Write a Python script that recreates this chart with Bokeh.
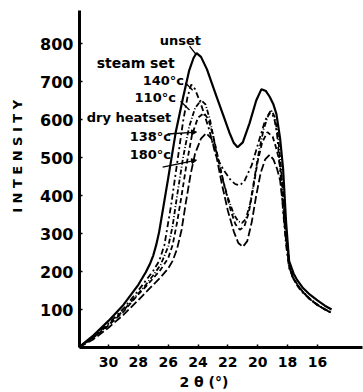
from bokeh.plotting import figure
from bokeh.models import Range1d, FixedTicker, Label, Arrow, NormalHead
from bokeh.embed import file_html
from bokeh.resources import INLINE

# ---- data ----
x_ticks = [30, 28, 26, 24, 22, 20, 18, 16]
y_ticks = [100, 200, 300, 400, 500, 600, 700, 800]

unset_theta = [32, 31, 30, 29, 28, 27.5, 27.2, 27.0, 26.8, 26.6, 26.3, 26.0, 25.5, 25.0, 24.6, 24.3, 24.1,
               23.8, 23.4, 22.8, 22.3, 21.9, 21.6, 21.35, 21.0, 20.55, 20.1, 19.75, 19.45, 19.2, 18.95,
               18.75, 18.5, 18.3, 18.1, 17.9, 17.6, 17.4, 17.0, 16.5, 16.0, 15.5, 15.05]
unset_int = [0, 32, 70, 112, 165, 198, 222, 242, 270, 305, 375, 445, 565, 658, 728, 762, 775,
             765, 732, 665, 610, 566, 538, 527, 540, 590, 650, 680, 675, 660, 640,
             615, 550, 470, 330, 228, 195, 180, 158, 139, 124, 110, 100]

steam140_theta = [32, 31, 30, 29, 28, 27.5, 27, 26.6, 26.25, 25.8, 25.4, 25.0, 24.7, 24.45, 24.2, 23.8,
                  23.3, 22.8, 22.3, 21.8, 21.5, 21.2, 20.9, 20.4, 19.9, 19.5, 19.15, 18.9, 18.7, 18.5,
                  18.3, 18.1, 17.9, 17.6, 17.3, 17.0, 16.5, 16.0, 15.5, 15.1]
steam140_int = [0, 28, 63, 102, 150, 176, 202, 228, 270, 375, 485, 595, 660, 692, 680, 640,
                580, 505, 468, 440, 430, 427, 437, 480, 546, 598, 622, 605, 560, 470,
                360, 270, 210, 180, 160, 145, 127, 112, 100, 92]

steam110_theta = [32, 31, 30, 29, 28, 27.5, 27, 26.5, 26.0, 25.7, 25.4, 25.0, 24.6, 24.2, 23.8, 23.5,
                  23.2, 22.8, 22.4, 22.0, 21.6, 21.3, 21.05, 20.8, 20.5, 20.2, 19.9, 19.6, 19.3, 19.05,
                  18.85, 18.65, 18.45, 18.25, 18.05, 17.85, 17.6, 17.3, 17.0, 16.5, 16.0, 15.5, 15.15]
steam110_int = [0, 27, 60, 97, 142, 165, 190, 218, 265, 320, 400, 500, 580, 630, 651, 640,
                600, 520, 450, 395, 350, 332, 328, 338, 380, 450, 520, 575, 610, 623,
                605, 560, 480, 370, 270, 210, 182, 163, 148, 128, 113, 101, 94]

dry138_theta = [32, 31, 30, 29, 28, 27.5, 27, 26.5, 26.0, 25.7, 25.4, 25.1, 24.8, 24.4, 24.0, 23.6,
                23.3, 23.0, 22.6, 22.2, 21.8, 21.5, 21.2, 20.9, 20.6, 20.3, 20.0, 19.7, 19.35, 19.0,
                18.8, 18.6, 18.4, 18.2, 18.0, 17.8, 17.6, 17.3, 17.0, 16.5, 16.0, 15.5, 15.15]
dry138_int = [0, 26, 58, 94, 140, 160, 182, 205, 235, 270, 330, 400, 475, 560, 605, 617,
              600, 560, 490, 420, 360, 325, 310, 318, 355, 420, 490, 540, 567, 555,
              530, 500, 450, 360, 265, 205, 180, 162, 147, 127, 112, 100, 93]

dry180_theta = [32, 31, 30, 29, 28, 27.5, 27, 26.5, 26.0, 25.7, 25.4, 25.1, 24.8, 24.5, 24.2, 23.8,
                23.45, 23.1, 22.8, 22.4, 22.0, 21.6, 21.3, 21.0, 20.7, 20.4, 20.1, 19.8, 19.5, 19.2,
                18.95, 18.7, 18.5, 18.3, 18.1, 17.9, 17.7, 17.4, 17.0, 16.5, 16.0, 15.5, 15.15]
dry180_int = [0, 22, 52, 86, 125, 145, 165, 185, 208, 228, 260, 310, 385, 455, 510, 550,
              564, 550, 510, 430, 360, 305, 275, 265, 280, 330, 400, 460, 495, 507,
              495, 470, 440, 370, 280, 215, 188, 168, 147, 127, 112, 100, 93]

series = [
    (unset_theta, unset_int, "solid", 2.2),
    (steam140_theta, steam140_int, "6 3 2 3", 1.8),
    (steam110_theta, steam110_int, "5 2 1 2", 1.8),
    (dry138_theta, dry138_int, "5 3", 1.8),
    (dry180_theta, dry180_int, "8 3", 1.8),
]

FONT = "DejaVu Sans"
NB = "\u00a0"

p = figure(width=363, height=392, output_backend="svg", toolbar_location=None,
           x_range=Range1d(31.94, 12.98), y_range=Range1d(0, 887),
           min_border_left=79, min_border_right=1, min_border_top=10, min_border_bottom=44)
p.outline_line_color = None
p.xgrid.grid_line_color = None
p.ygrid.grid_line_color = None
p.background_fill_color = "white"

for th, it, dash, w in series:
    p.line(x=th, y=it, line_color="black", line_width=w, line_dash=dash)

for ax in (p.xaxis[0], p.yaxis[0]):
    ax.axis_line_width = 3
    ax.axis_line_color = "black"
    ax.major_tick_in = 3
    ax.major_tick_out = 0
    ax.major_tick_line_width = 1.5
    ax.minor_tick_line_color = None
    ax.major_label_text_font = FONT
    ax.major_label_text_font_style = "bold"
    ax.major_label_text_color = "black"
    ax.axis_label_text_font = FONT
    ax.axis_label_text_font_style = "bold"
    ax.axis_label_text_color = "black"

p.xaxis[0].ticker = FixedTicker(ticks=x_ticks)
p.yaxis[0].ticker = FixedTicker(ticks=y_ticks)
p.xaxis[0].major_label_text_font_size = "14px"
p.yaxis[0].major_label_text_font_size = "16px"
p.xaxis[0].major_label_standoff = 9
p.yaxis[0].major_label_standoff = 6

# axis titles (padding shifts the centred title like in the original)
p.xaxis[0].axis_label = "2 θ (°)" + NB * 7
p.xaxis[0].axis_label_text_font_size = "14px"
p.xaxis[0].axis_label_standoff = 4
p.yaxis[0].axis_label = NB * 10 + "I N T E N S I T Y"
p.yaxis[0].axis_label_text_font_size = "13px"
p.yaxis[0].axis_label_standoff = 12

# curve labels
labels = [("unset", 26.57, 808, "13px"), ("steam set", 30.79, 750, "14px"),
          ("140°c", 27.71, 703, "13px"), ("110°c", 28.25, 659, "13px"),
          ("dry heatset", 31.46, 606, "13px"), ("138°c", 28.58, 556, "13px"),
          ("180°c", 28.58, 507, "13px")]
for t, lx, ly, fs in labels:
    p.add_layout(Label(x=lx, y=ly, text=t, text_font=FONT, text_font_style="bold",
                       text_color="black", text_font_size=fs, text_baseline="middle",
                       text_align="left"))

# leader lines
p.add_layout(Arrow(x_start=24.57, y_start=793, x_end=24.15, y_end=772, end=None, line_width=1.3))
p.add_layout(Arrow(x_start=24.83, y_start=696, x_end=24.36, y_end=677, end=None, line_width=1.3))
p.add_layout(Arrow(x_start=25.17, y_start=648, x_end=24.57, y_end=625, end=None, line_width=1.3))
p.add_layout(Arrow(x_start=26.04, y_start=562, x_end=24.10, y_end=567, line_width=1.3,
                   end=NormalHead(size=5, fill_color="black", line_color="black")))
p.add_layout(Arrow(x_start=26.37, y_start=475, x_end=24.10, y_end=493, line_width=1.3,
                   end=NormalHead(size=5, fill_color="black", line_color="black")))

open("out.html", "w").write(file_html(p, INLINE))
